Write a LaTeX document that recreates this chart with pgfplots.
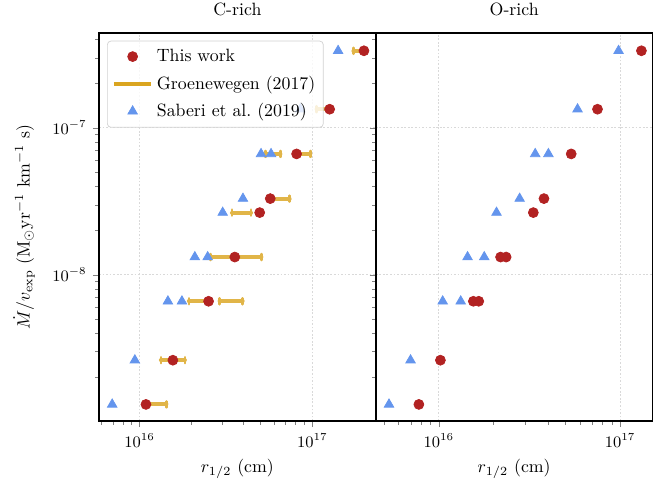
\documentclass[border=0pt]{standalone}
\usepackage{pgfplots}
\pgfplotsset{compat=1.18}
\definecolor{fire}{HTML}{B22222}
\definecolor{cblue}{HTML}{6495ED}
\definecolor{gold}{HTML}{DAA520}
\colorlet{barcol}{gold!82!white}
\pgfplotsset{
  twcirc/.style={only marks, mark=*, mark size=2.8pt, color=fire, mark options={draw=fire, fill=fire}, forget plot},
  sbtri/.style={only marks, mark=triangle*, mark size=3.1pt, color=cblue, mark options={draw=cblue, fill=cblue}, forget plot},
  grbar/.style={barcol, line width=2.3pt, line cap=round, mark=|, mark size=1.7pt, mark options={line width=1.4pt, barcol}, forget plot},
}
\begin{document}
\begin{tikzpicture}
\begin{axis}[xmode=log, ymode=log,
    scale only axis,
    width=155.5pt, height=218pt,
    ymin=1.01e-9, ymax=4.43e-7,
    tick align=outside, tick pos=left,
    major tick length=3.5pt, minor tick length=2pt,
    axis line style={line width=0.9pt},
    grid=major,
    major grid style={gray!30, line width=0.5pt, dash pattern=on 1pt off 1pt},
    tick label style={font=\small},
    xlabel={$r_{1/2}$ (cm)},
  at={(0pt,0pt)}, anchor=south west,
  xmin=5.83e15, xmax=2.33e17,
  title={C-rich},
  ylabel={$\dot{M}/v_{\mathrm{exp}}$ (M$_{\odot}$yr$^{-1}$ km$^{-1}$ s)},
  ylabel style={yshift=3pt},
  legend style={at={(0.029,0.98)}, anchor=north west, draw=gray!35, rounded corners=2pt,
    fill=white, fill opacity=0.8, text opacity=1, draw opacity=1, font=\normalsize,
    cells={anchor=west}, inner sep=2.5pt, row sep=2.5pt},
]
\addlegendimage{only marks, mark=*, mark size=2.8pt, fire, fill opacity=1, draw opacity=1}
\addlegendentry{This work}
\addlegendimage{legend image code/.code={\draw[gold, line width=2.3pt, draw opacity=1] (-2pt,0pt) -- (19pt,0pt);}}
\addlegendentry{Groenewegen (2017)}
\addlegendimage{only marks, mark=triangle*, mark size=3.1pt, cblue, fill opacity=1, draw opacity=1}
\addlegendentry{Saberi et al.\ (2019)}

% Groenewegen (2017) ranges
\addplot[grbar] coordinates {(1.73e17,3.35e-7) (2.00e17,3.35e-7)};
\addplot[grbar] coordinates {(1.06e17,1.34e-7) (1.30e17,1.34e-7)};
\addplot[grbar] coordinates {(5.35e16,6.65e-8) (6.53e16,6.65e-8)};
\addplot[grbar] coordinates {(8.00e16,6.65e-8) (9.73e16,6.65e-8)};
\addplot[grbar] coordinates {(5.60e16,3.30e-8) (7.39e16,3.30e-8)};
\addplot[grbar] coordinates {(3.43e16,2.65e-8) (4.42e16,2.65e-8)};
\addplot[grbar] coordinates {(2.57e16,1.32e-8) (5.07e16,1.32e-8)};
\addplot[grbar] coordinates {(1.93e16,6.60e-9) (2.55e16,6.60e-9)};
\addplot[grbar] coordinates {(2.91e16,6.60e-9) (3.95e16,6.60e-9)};
\addplot[grbar] coordinates {(1.33e16,2.62e-9) (1.83e16,2.62e-9)};
\addplot[grbar] coordinates {(1.05e16,1.31e-9) (1.43e16,1.31e-9)};

% Saberi et al. (2019)
\addplot[sbtri] coordinates {
(1.41e17,3.35e-7) (8.53e16,1.34e-7) (5.05e16,6.65e-8) (5.77e16,6.65e-8)
(3.97e16,3.30e-8) (3.03e16,2.65e-8) (2.09e16,1.32e-8) (2.48e16,1.32e-8)
(1.46e16,6.60e-9) (1.76e16,6.60e-9) (9.40e15,2.62e-9) (6.95e15,1.31e-9)};

% This work
\addplot[twcirc] coordinates {
(1.99e17,3.35e-7) (1.26e17,1.34e-7) (8.11e16,6.65e-8) (5.71e16,3.30e-8)
(4.96e16,2.65e-8) (3.56e16,1.32e-8) (2.51e16,6.60e-9) (1.56e16,2.62e-9)
(1.09e16,1.31e-9)};
\end{axis}

\begin{axis}[xmode=log, ymode=log,
    scale only axis,
    width=155.5pt, height=218pt,
    ymin=1.01e-9, ymax=4.43e-7,
    tick align=outside, tick pos=left,
    major tick length=3.5pt, minor tick length=2pt,
    axis line style={line width=0.9pt},
    grid=major,
    major grid style={gray!30, line width=0.5pt, dash pattern=on 1pt off 1pt},
    tick label style={font=\small},
    xlabel={$r_{1/2}$ (cm)},
  at={(155.5pt,0pt)}, anchor=south west,
  xmin=4.49e15, xmax=1.51e17,
  title={O-rich},
  yticklabels={},
]
% Saberi et al. (2019)
\addplot[sbtri] coordinates {
(9.80e16,3.35e-7) (5.82e16,1.34e-7) (3.40e16,6.65e-8) (4.02e16,6.65e-8)
(2.79e16,3.30e-8) (2.08e16,2.65e-8) (1.44e16,1.32e-8) (1.78e16,1.32e-8)
(1.05e16,6.60e-9) (1.32e16,6.60e-9) (6.98e15,2.62e-9) (5.31e15,1.31e-9)};
% This work
\addplot[twcirc] coordinates {
(1.31e17,3.35e-7) (7.50e16,1.34e-7) (5.37e16,6.65e-8) (3.80e16,3.30e-8)
(3.32e16,2.65e-8) (2.19e16,1.32e-8) (2.35e16,1.32e-8) (1.55e16,6.60e-9)
(1.66e16,6.60e-9) (1.02e16,2.62e-9) (7.76e15,1.31e-9)};
\end{axis}
\pgfresetboundingbox
\path[use as bounding box] (-55.6pt,-34.8pt) rectangle (320.8pt,236.5pt);
\end{tikzpicture}
\end{document}
